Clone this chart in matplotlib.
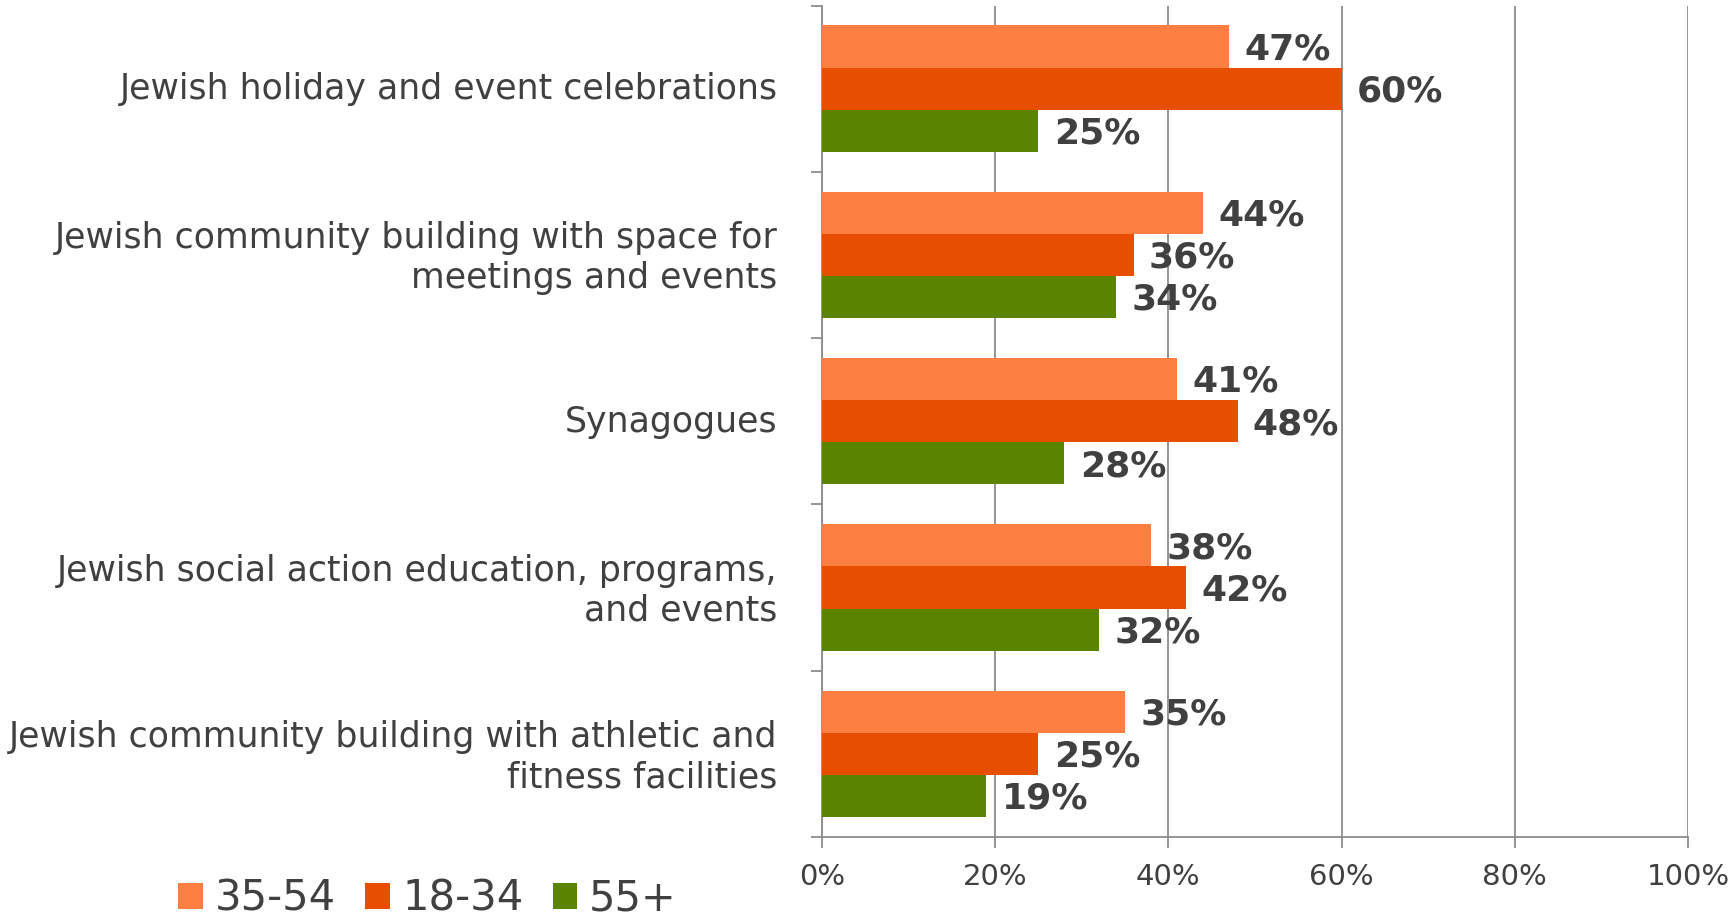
import numpy as np
import matplotlib.pyplot as plt
import matplotlib.transforms as mtransforms
from matplotlib.patches import Patch

# data
categories = ["Jewish holiday and event celebrations",
              "Jewish community building with space for\nmeetings and events",
              "Synagogues",
              "Jewish social action education, programs,\nand events",
              "Jewish community building with athletic and\nfitness facilities"]
series_names = ["35-54", "18-34", "55+"]
age_35_54 = [47, 44, 41, 38, 35]
age_18_34 = [60, 36, 48, 42, 25]
age_55_up = [25, 34, 28, 32, 19]
x_ticks = [0, 20, 40, 60, 80, 100]

colors = ["#FD8042", "#E84E00", "#5A8400"]
text_col = "#404040"
grid_col = "#8C8C8C"

fig = plt.figure(figsize=(17.33, 9.22), dpi=100)
ax = fig.add_axes([0.4743, 0.0922, 0.4997, 0.9018])

y = np.arange(len(categories))
h = 0.2533
offsets = [-h, 0, h]
for vals, off, c in zip([age_35_54, age_18_34, age_55_up], offsets, colors):
    bars = ax.barh(y + off, vals, height=h, color=c, zorder=3)
    for b, v in zip(bars, vals):
        ax.annotate(f"{v}%", (b.get_width(), b.get_y() + b.get_height() / 2),
                    xytext=(11, -2), textcoords="offset points",
                    ha="left", va="center", fontsize=26, fontweight="bold",
                    color=text_col, zorder=4)

ax.set_xlim(0, 100)
ax.set_ylim(len(categories) - 0.5, -0.5)
ax.set_xticks(x_ticks)
ax.set_xticklabels([f"{t}%" for t in x_ticks], fontsize=21, color=text_col)
ax.set_yticks(y)
ax.set_yticklabels(categories, fontsize=25, color=text_col, linespacing=1.22)
ax.set_yticks(np.arange(len(categories) + 1) - 0.5, minor=True)
ax.tick_params(axis="y", which="major", length=0, pad=32)
ax.tick_params(axis="y", which="minor", length=8, width=1.3, color=grid_col)
ax.tick_params(axis="x", length=8, width=1.3, color=grid_col, pad=11)
# nudge category labels up a little
shift = mtransforms.ScaledTranslation(0, 3 / 100, fig.dpi_scale_trans)
for lbl in ax.get_yticklabels():
    lbl.set_horizontalalignment("right")
    lbl.set_transform(lbl.get_transform() + shift)

ax.grid(axis="x", color=grid_col, linewidth=1.3, zorder=0)
for s in ["top", "right"]:
    ax.spines[s].set_visible(False)
for s in ["left", "bottom"]:
    ax.spines[s].set_color(grid_col)
    ax.spines[s].set_linewidth(1.3)

handles = [Patch(facecolor=c) for c in colors]
fig.legend(handles, series_names, loc="center left", bbox_to_anchor=(0.103, 0.025),
           ncol=3, frameon=False, fontsize=30, labelcolor=text_col,
           handlelength=0.58, handleheight=0.58, handletextpad=0.3,
           columnspacing=0.7, borderpad=0, borderaxespad=0)

fig.savefig("out.png", dpi=100)
